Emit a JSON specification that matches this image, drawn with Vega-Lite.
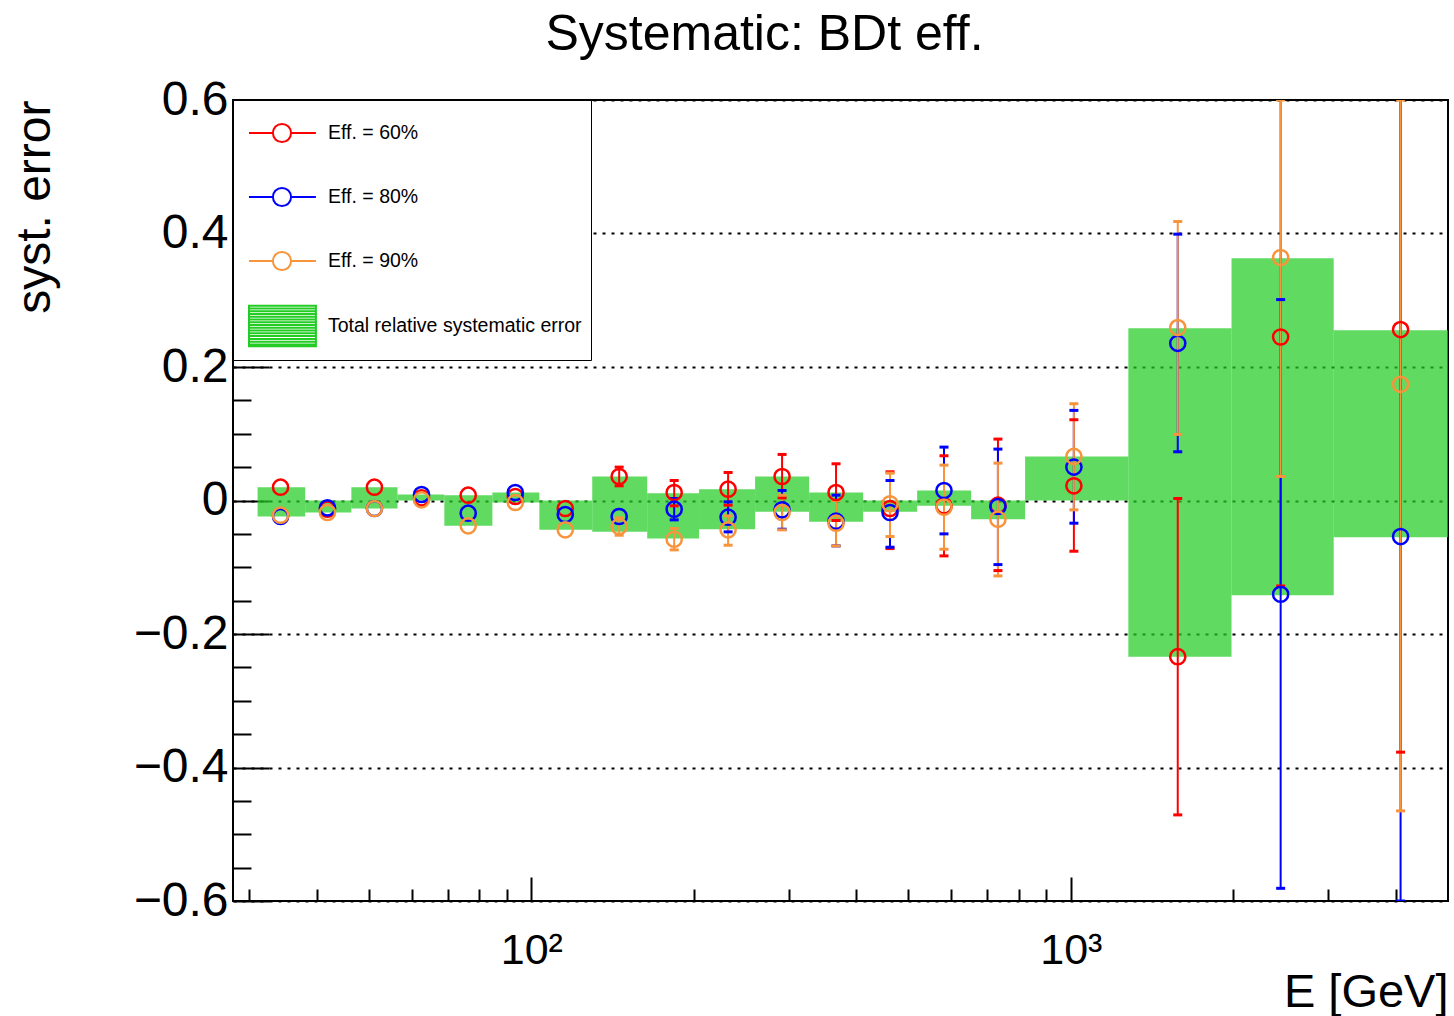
{
  "$schema": "https://vega.github.io/schema/vega-lite/v6.json",
  "width": 1215,
  "height": 801,
  "autosize": {"type": "none"},
  "padding": {"left": 233, "top": 100, "right": 6, "bottom": 115},
  "background": "white",
  "config": {
    "view": {"stroke": "black", "strokeWidth": 2},
    "font": "Liberation Sans"
  },
  "title": {
    "text": "Systematic: BDt eff.",
    "font": "Liberation Sans",
    "fontSize": 50,
    "fontWeight": "normal",
    "color": "black",
    "anchor": "middle",
    "dx": -76,
    "dy": 50,
    "baseline": "alphabetic",
    "offset": 26
  },
  "datasets": {
    "bins": [
      {"elo": 31.1, "ehi": 38.1, "blo": -0.024, "bhi": 0.020},
      {"elo": 38.1, "ehi": 46.4, "blo": -0.018, "bhi": 0.0},
      {"elo": 46.4, "ehi": 56.5, "blo": -0.012, "bhi": 0.020},
      {"elo": 56.5, "ehi": 69.0, "blo": 0.0, "bhi": 0.009},
      {"elo": 69.0, "ehi": 84.7, "blo": -0.038, "bhi": 0.008},
      {"elo": 84.7, "ehi": 103.5, "blo": -0.003, "bhi": 0.012},
      {"elo": 103.5, "ehi": 129.7, "blo": -0.044, "bhi": 0.0},
      {"elo": 129.7, "ehi": 164.0, "blo": -0.047, "bhi": 0.036},
      {"elo": 164.0, "ehi": 204.6, "blo": -0.057, "bhi": 0.011},
      {"elo": 204.6, "ehi": 259.9, "blo": -0.043, "bhi": 0.017},
      {"elo": 259.9, "ehi": 327.3, "blo": -0.017, "bhi": 0.036},
      {"elo": 327.3, "ehi": 412.1, "blo": -0.032, "bhi": 0.012},
      {"elo": 412.1, "ehi": 518.9, "blo": -0.017, "bhi": 0.0},
      {"elo": 518.9, "ehi": 653.4, "blo": -0.008, "bhi": 0.015},
      {"elo": 653.4, "ehi": 822.7, "blo": -0.028, "bhi": 0.0},
      {"elo": 822.7, "ehi": 1278, "blo": 0.0, "bhi": 0.066},
      {"elo": 1278, "ehi": 1985, "blo": -0.234, "bhi": 0.258},
      {"elo": 1985, "ehi": 3070, "blo": -0.142, "bhi": 0.363},
      {"elo": 3070, "ehi": 5000, "blo": -0.055, "bhi": 0.255}
    ],
    "pts": [
      {"E": 34.3, "series": "Eff. = 60%", "val": 0.020, "lo": null, "hi": null},
      {"E": 34.3, "series": "Eff. = 80%", "val": -0.024, "lo": null, "hi": null},
      {"E": 34.3, "series": "Eff. = 90%", "val": -0.022, "lo": null, "hi": null},
      {"E": 41.9, "series": "Eff. = 60%", "val": -0.013, "lo": null, "hi": null},
      {"E": 41.9, "series": "Eff. = 80%", "val": -0.011, "lo": null, "hi": null},
      {"E": 41.9, "series": "Eff. = 90%", "val": -0.018, "lo": null, "hi": null},
      {"E": 51.2, "series": "Eff. = 60%", "val": 0.020, "lo": null, "hi": null},
      {"E": 51.2, "series": "Eff. = 80%", "val": -0.012, "lo": null, "hi": null},
      {"E": 51.2, "series": "Eff. = 90%", "val": -0.012, "lo": null, "hi": null},
      {"E": 62.6, "series": "Eff. = 60%", "val": 0.004, "lo": null, "hi": null},
      {"E": 62.6, "series": "Eff. = 80%", "val": 0.009, "lo": null, "hi": null},
      {"E": 62.6, "series": "Eff. = 90%", "val": 0.001, "lo": null, "hi": null},
      {"E": 76.4, "series": "Eff. = 60%", "val": 0.008, "lo": null, "hi": null},
      {"E": 76.4, "series": "Eff. = 80%", "val": -0.019, "lo": null, "hi": null},
      {"E": 76.4, "series": "Eff. = 90%", "val": -0.038, "lo": null, "hi": null},
      {"E": 93.4, "series": "Eff. = 60%", "val": 0.006, "lo": null, "hi": null},
      {"E": 93.4, "series": "Eff. = 80%", "val": 0.012, "lo": null, "hi": null},
      {"E": 93.4, "series": "Eff. = 90%", "val": -0.003, "lo": null, "hi": null},
      {"E": 115.6, "series": "Eff. = 60%", "val": -0.012, "lo": null, "hi": null},
      {"E": 115.6, "series": "Eff. = 80%", "val": -0.021, "lo": null, "hi": null},
      {"E": 115.6, "series": "Eff. = 90%", "val": -0.044, "lo": null, "hi": null},
      {"E": 145.5, "series": "Eff. = 60%", "val": 0.036, "lo": 0.022, "hi": 0.050},
      {"E": 145.5, "series": "Eff. = 80%", "val": -0.024, "lo": null, "hi": null},
      {"E": 145.5, "series": "Eff. = 90%", "val": -0.039, "lo": -0.052, "hi": -0.026},
      {"E": 184.0, "series": "Eff. = 60%", "val": 0.012, "lo": -0.008, "hi": 0.030},
      {"E": 184.0, "series": "Eff. = 80%", "val": -0.013, "lo": -0.029, "hi": 0.003},
      {"E": 184.0, "series": "Eff. = 90%", "val": -0.058, "lo": -0.074, "hi": -0.042},
      {"E": 231.6, "series": "Eff. = 60%", "val": 0.017, "lo": -0.007, "hi": 0.042},
      {"E": 231.6, "series": "Eff. = 80%", "val": -0.025, "lo": -0.047, "hi": -0.002},
      {"E": 231.6, "series": "Eff. = 90%", "val": -0.044, "lo": -0.067, "hi": -0.023},
      {"E": 291.6, "series": "Eff. = 60%", "val": 0.036, "lo": 0.004, "hi": 0.069},
      {"E": 291.6, "series": "Eff. = 80%", "val": -0.014, "lo": -0.043, "hi": 0.015},
      {"E": 291.6, "series": "Eff. = 90%", "val": -0.018, "lo": -0.044, "hi": 0.008},
      {"E": 367.1, "series": "Eff. = 60%", "val": 0.012, "lo": -0.030, "hi": 0.055},
      {"E": 367.1, "series": "Eff. = 80%", "val": -0.031, "lo": -0.068, "hi": 0.008},
      {"E": 367.1, "series": "Eff. = 90%", "val": -0.034, "lo": -0.068, "hi": 0.000},
      {"E": 462.2, "series": "Eff. = 60%", "val": -0.012, "lo": -0.072, "hi": 0.043},
      {"E": 462.2, "series": "Eff. = 80%", "val": -0.018, "lo": -0.070, "hi": 0.030},
      {"E": 462.2, "series": "Eff. = 90%", "val": -0.005, "lo": -0.054, "hi": 0.041},
      {"E": 581.9, "series": "Eff. = 60%", "val": -0.008, "lo": -0.083, "hi": 0.067},
      {"E": 581.9, "series": "Eff. = 80%", "val": 0.015, "lo": -0.050, "hi": 0.080},
      {"E": 581.9, "series": "Eff. = 90%", "val": -0.010, "lo": -0.073, "hi": 0.053},
      {"E": 732.6, "series": "Eff. = 60%", "val": -0.007, "lo": -0.105, "hi": 0.092},
      {"E": 732.6, "series": "Eff. = 80%", "val": -0.009, "lo": -0.096, "hi": 0.077},
      {"E": 732.6, "series": "Eff. = 90%", "val": -0.028, "lo": -0.113, "hi": 0.056},
      {"E": 1013, "series": "Eff. = 60%", "val": 0.022, "lo": -0.076, "hi": 0.121},
      {"E": 1013, "series": "Eff. = 80%", "val": 0.050, "lo": -0.034, "hi": 0.135},
      {"E": 1013, "series": "Eff. = 90%", "val": 0.066, "lo": -0.014, "hi": 0.145},
      {"E": 1578, "series": "Eff. = 60%", "val": -0.234, "lo": -0.471, "hi": 0.003},
      {"E": 1578, "series": "Eff. = 80%", "val": 0.2355, "lo": 0.073, "hi": 0.399},
      {"E": 1578, "series": "Eff. = 90%", "val": 0.259, "lo": 0.099, "hi": 0.418},
      {"E": 2448, "series": "Eff. = 60%", "val": 0.245, "lo": -0.128, "hi": 0.618},
      {"E": 2448, "series": "Eff. = 80%", "val": -0.1405, "lo": -0.581, "hi": 0.301},
      {"E": 2448, "series": "Eff. = 90%", "val": 0.364, "lo": 0.036, "hi": 0.6},
      {"E": 4084, "series": "Eff. = 60%", "val": 0.256, "lo": -0.377, "hi": 0.889},
      {"E": 4084, "series": "Eff. = 80%", "val": -0.054, "lo": -0.6, "hi": 0.65},
      {"E": 4084, "series": "Eff. = 90%", "val": 0.174, "lo": -0.465, "hi": 0.6}
    ]
  },
  "layer": [
    {
      "data": {"name": "bins"},
      "mark": {"type": "rect", "fill": "#22cc22", "fillOpacity": 0.72, "clip": true},
      "encoding": {
        "x": {
          "field": "elo", "type": "quantitative",
          "scale": {"type": "log", "domain": [28, 5000], "nice": false},
          "axis": {
            "orient": "bottom",
            "values": [100, 1000],
            "labelExpr": "datum.value == 100 ? '10²' : '10³'",
            "labelFont": "Liberation Sans", "labelFontSize": 43, "labelColor": "black",
            "labelPadding": 28, "labelBaseline": "top",
            "ticks": false, "domain": false, "grid": false,
            "title": "E [GeV]",
            "titleFont": "Liberation Sans", "titleFontSize": 47, "titleFontWeight": "normal", "titleColor": "black",
            "titleAnchor": "end", "titleAlign": "right", "titleBaseline": "alphabetic",
            "titleX": 1215, "titleY": 105
          }
        },
        "x2": {"field": "ehi"},
        "y": {
          "field": "blo", "type": "quantitative",
          "scale": {"domain": [-0.6, 0.6], "nice": false, "zero": false},
          "axis": {
            "orient": "left",
            "values": [-0.6, -0.4, -0.2, 0, 0.2, 0.4, 0.6],
            "labelExpr": "datum.value == 0 ? '0' : format(datum.value, '.1f')",
            "labelFont": "Liberation Sans", "labelFontSize": 48, "labelColor": "black",
            "labelPadding": 5, "labelBaseline": "middle",
            "ticks": false, "domain": false,
            "grid": true, "gridColor": "black", "gridWidth": 2, "gridDash": [3, 6], "gridOpacity": 1,
            "title": "syst. error",
            "titleFont": "Liberation Sans", "titleFontSize": 48, "titleFontWeight": "normal", "titleColor": "black",
            "titleAngle": -90, "titleAlign": "right", "titleBaseline": "alphabetic",
            "titleX": -184, "titleY": 0
          }
        },
        "y2": {"field": "bhi"}
      }
    },
    {
      "data": {"name": "pts"},
      "mark": {"type": "rule", "strokeWidth": 2, "clip": true},
      "encoding": {
        "x": {
          "field": "E", "type": "quantitative",
          "axis": {
            "orient": "bottom",
            "values": [30, 40, 50, 60, 70, 80, 90, 100, 200, 300, 400, 500, 600, 700, 800, 900, 1000, 2000, 3000, 4000],
            "labels": false, "domain": false, "grid": false, "title": null,
            "ticks": true, "tickColor": "black", "tickWidth": 2,
            "tickSize": {"condition": {"test": "datum.value == 100 || datum.value == 1000", "value": -24}, "value": -12}
          }
        },
        "y": {
          "field": "lo", "type": "quantitative",
          "axis": {
            "orient": "left",
            "values": [-0.6, -0.55, -0.5, -0.45, -0.4, -0.35, -0.3, -0.25, -0.2, -0.15, -0.1, -0.05, 0, 0.05, 0.1, 0.15, 0.2, 0.25, 0.3, 0.35, 0.4, 0.45, 0.5, 0.55, 0.6],
            "labels": false, "domain": false, "grid": false, "title": null,
            "ticks": true, "tickColor": "black", "tickWidth": 2,
            "tickSize": {"condition": {"test": "abs(round(datum.value * 20)) % 4 == 0", "value": -36}, "value": -18}
          }
        },
        "y2": {"field": "hi"},
        "color": {
          "field": "series", "type": "nominal", "title": null,
          "scale": {
            "domain": ["Eff. = 60%", "Eff. = 80%", "Eff. = 90%", "Total relative systematic error"],
            "range": ["#ff0000", "#0000ff", "#f7943c", "#22cc22"]
          },
          "legend": {
            "title": null,
            "orient": "none", "legendX": 0, "legendY": 0,
            "padding": 9, "strokeColor": "black", "fillColor": "white",
            "labelFont": "Liberation Sans", "labelFontSize": 19.5, "labelColor": "black", "labelLimit": 600,
            "labelOffset": 38, "rowPadding": 26,
            "symbolSize": 2116, "symbolStrokeWidth": 2,
            "symbolType": "M-0.74,0H0.3M1.09,0H2.17M1.09,0A0.39,0.39,0,1,1,0.3,0A0.39,0.39,0,1,1,1.09,0",
            "encode": {
              "symbols": {
                "update": {
                  "shape": {"signal": "datum.value === 'Total relative systematic error' ? 'M-0.74,-0.88H2.17V0.88H-0.74ZM-0.74,-0.76H2.17M-0.74,-0.64H2.17M-0.74,-0.52H2.17M-0.74,-0.4H2.17M-0.74,-0.28H2.17M-0.74,-0.16H2.17M-0.74,-0.04H2.17M-0.74,0.08H2.17M-0.74,0.2H2.17M-0.74,0.32H2.17M-0.74,0.44H2.17M-0.74,0.56H2.17M-0.74,0.68H2.17M-0.74,0.8H2.17' : 'M-0.74,0H0.3M1.09,0H2.17M1.09,0A0.39,0.39,0,1,1,0.3,0A0.39,0.39,0,1,1,1.09,0'"},
                  "fill": {"value": "transparent"},
                  "strokeWidth": {"value": 2},
                  "opacity": {"value": 1}
                }
              }
            }
          }
        }
      }
    },
    {
      "data": {"name": "pts"},
      "mark": {"type": "point", "shape": "stroke", "size": 81, "strokeWidth": 3, "filled": false, "opacity": 1, "clip": true},
      "encoding": {
        "x": {"field": "E", "type": "quantitative", "axis": null},
        "y": {"field": "lo", "type": "quantitative", "axis": null},
        "color": {"field": "series", "type": "nominal", "title": null}
      }
    },
    {
      "data": {"name": "pts"},
      "mark": {"type": "point", "shape": "stroke", "size": 81, "strokeWidth": 3, "filled": false, "opacity": 1, "clip": true},
      "encoding": {
        "x": {"field": "E", "type": "quantitative", "axis": null},
        "y": {"field": "hi", "type": "quantitative", "axis": null},
        "color": {"field": "series", "type": "nominal", "title": null}
      }
    },
    {
      "data": {"name": "pts"},
      "mark": {"type": "point", "size": 230, "strokeWidth": 2.5, "filled": false, "opacity": 1, "clip": true},
      "encoding": {
        "x": {"field": "E", "type": "quantitative", "axis": null},
        "y": {"field": "val", "type": "quantitative", "axis": null},
        "color": {"field": "series", "type": "nominal", "title": null}
      }
    }
  ],
  "resolve": {"axis": {"x": "independent", "y": "independent"}}
}
